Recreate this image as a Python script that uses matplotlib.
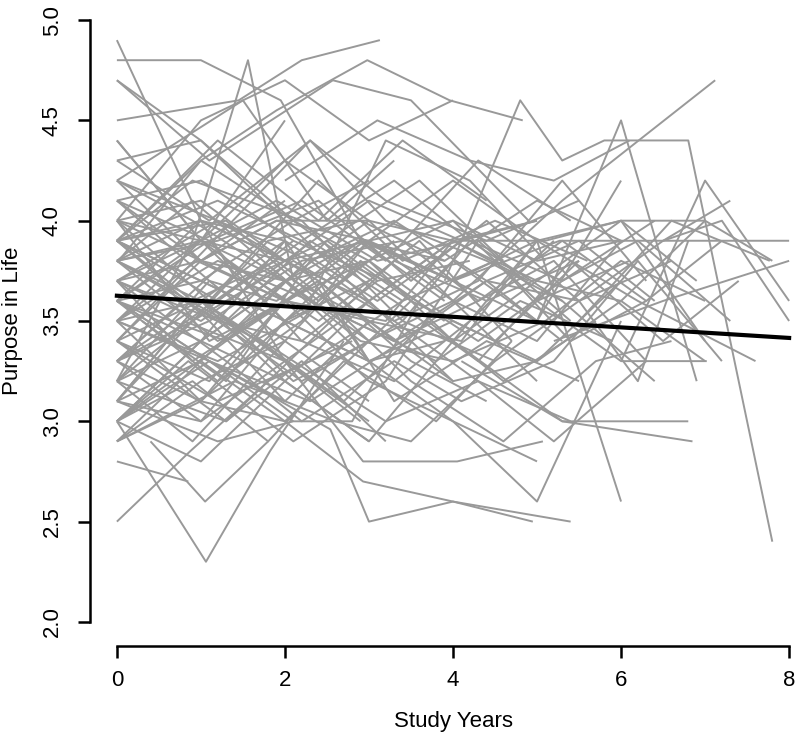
import matplotlib
matplotlib.use("Agg")
import matplotlib.pyplot as plt

plt.rcParams['font.family'] = ['Liberation Sans Narrow', 'Liberation Sans', 'DejaVu Sans']

# one list of study years and one of scores per participant
years = [
    [0, 1.0, 2.0, 2.9],
    [0, 1.0, 1.95, 2.9, 3.9],
    [0, 1.45, 2.2, 3.13],
    [0, 0.9, 1.56, 2.1, 3.0],
    [0.02, 1.0, 1.9, 2.98, 3.96, 4.83],
    [0, 1.1, 2.57, 3.5, 4.9],
    [3.9, 4.8, 5.3, 5.8, 6.8, 7.0, 7.8],
    [4.0, 5.3, 7.12],
    [5.0, 6.0, 6.9],
    [0, 0.87, 1.8, 2.8],
    [0, 1.06, 1.82, 2.7],
    [0.4, 1.05, 1.8],
    [0, 0.85],
    [0, 1.0, 2.0, 2.93, 4.0, 4.95],
    [0, 1.1, 2.54, 3.0, 4.0, 5.4],
    [0, 1.0, 2.0, 2.93, 4.05, 5.07],
    [3.0, 4.0, 5.0, 6.0],
    [3.0, 4.1, 5.0, 6.0],
    [4.0, 5.27, 6.5, 8.0],
    [6.0, 7.0, 7.5, 8.0],
    [5.2, 6.5, 8.0],
    [4.0, 5.3, 6.85],
    [4.1, 5.3, 6.8],
    [5.0, 6.0, 7.02],
    [5.0, 6.2, 7.6],
    [6.5, 7.2, 8.0],
    [5.5, 6.6, 7.77],
    [0, 1.0, 2.0, 3.0],
    [0, 1.0, 2.0],
    [0, 1.5, 2.5, 3.3],
    [0, 1.0, 2.0, 3.0, 4.0],
    [0, 1.0, 2.1, 3.0],
    [0, 0.95, 2.0, 2.95, 4.0],
    [0, 1.1, 2.0],
    [0, 1.0, 1.9, 3.1, 4.1, 5.0],
    [0, 1.05, 2.1, 3.0],
    [0, 0.9, 2.0, 2.9, 3.9],
    [0, 1.0, 2.0],
    [0, 1.2, 2.2, 3.1, 4.2],
    [0, 1.0, 2.0, 3.0, 4.0, 5.0, 6.0],
    [0, 0.8, 2.0, 3.0],
    [0, 1.0, 2.1],
    [0, 1.1, 2.0, 3.2, 4.0],
    [0, 0.9, 1.9, 2.8, 3.8, 4.8, 5.9],
    [0, 1.0, 2.0, 3.0],
    [0, 1.0, 2.0, 3.0, 4.1],
    [0, 1.1, 2.1],
    [0, 1.0, 1.9, 3.0, 4.0, 5.0],
    [0, 0.9, 2.0],
    [0, 1.0, 2.0, 2.9, 4.0, 5.1, 6.0, 7.0],
    [0, 1.0, 2.1, 3.1],
    [0, 1.1, 2.0, 3.0, 4.0],
    [0, 1.0, 2.0],
    [0, 1.0, 2.0, 3.0, 4.0, 4.9],
    [0, 1.0, 2.0, 3.0],
    [0, 0.9, 1.8, 2.9, 3.9, 5.0, 6.0],
    [0, 1.0, 2.0, 3.0],
    [0, 1.1, 2.0, 2.9, 3.9],
    [0, 1.0, 2.0, 3.0, 4.0, 5.0, 6.1],
    [0, 1.0, 2.0],
    [0, 1.2, 2.2, 3.0, 4.0],
    [0, 1.0, 2.0, 3.0, 4.0, 5.0],
    [0, 1.0, 2.1, 3.0],
    [0, 0.9, 2.0, 3.0],
    [0, 1.0, 2.0, 3.1, 4.1, 5.1, 6.0, 6.9],
    [0, 1.0, 2.0],
    [0, 1.0, 2.0, 3.0, 3.9],
    [0, 1.1, 1.9, 2.9, 4.0, 5.0],
    [0, 1.0, 2.0, 3.0],
    [0, 1.0, 2.0, 3.0, 4.0, 5.0, 6.0],
    [0, 1.0, 2.0],
    [0.5, 1.5, 2.5, 3.5, 4.5, 5.5],
    [0, 1.0, 2.0, 3.0],
    [0, 1.0, 2.0, 3.0, 4.0, 5.0, 6.0, 7.0],
    [0, 1.1, 2.0],
    [0, 1.0, 2.0, 3.0, 4.0],
    [0, 1.0, 1.9, 3.0, 4.0, 5.0, 6.0, 7.0, 7.8],
    [0, 1.0, 2.0, 3.0],
    [0, 1.0, 2.0, 3.0, 4.0, 5.0, 6.0, 7.0],
    [0, 1.0, 2.0],
    [0, 1.0, 2.0, 3.0, 4.0, 5.0],
    [0, 1.0, 2.0, 3.0, 4.0, 5.0, 6.0],
    [0, 1.0, 2.0, 3.0, 4.0, 5.0, 6.0, 7.0],
    [0, 1.0, 2.0, 3.0, 4.0, 5.0],
    [0, 1.0, 2.0, 3.0, 4.0, 5.0, 6.0],
    [0, 1.0, 2.0, 3.0, 4.0, 5.0],
    [0, 1.15, 2.3, 3.2, 4.4, 5.3, 6.4],
    [0, 1.2, 2.4, 3.4, 4.4],
    [0, 0.85, 2.1, 3.2, 4.3, 5.4],
    [0, 1.3, 2.2, 3.3, 4.1, 5.2, 6.2, 7.2],
    [0, 0.9, 2.3, 3.2, 4.2, 5.1],
    [0, 1.2, 2.1, 2.8, 3.6],
    [0.3, 1.3, 2.3, 3.3, 4.3, 5.3, 6.3],
    [0, 1.1, 2.4, 3.4, 4.5, 5.6],
    [0, 0.8, 1.7, 2.7, 3.7, 4.6, 5.7],
    [0, 1.3, 2.5, 3.6, 4.6],
    [0, 1.2, 2.2, 3.3, 4.3, 5.4, 6.5, 7.4],
    [0, 0.9, 2.2, 3.4, 4.2, 5.3],
    [0, 1.2, 2.5, 3.5, 4.6, 5.7, 6.6],
    [0, 1.3, 2.3, 3.4],
    [0, 0.9, 1.8, 2.7, 3.8, 4.7],
    [0, 1.2, 2.3, 3.3, 4.4, 5.5, 6.4],
    [0, 1.1, 2.2, 3.3, 4.2, 5.2],
    [0, 1.3, 2.4, 3.6, 4.7],
    [0, 1.2, 2.1, 3.2, 4.3, 5.3, 6.2, 7.3],
    [0, 1.4, 2.6, 3.5, 4.5],
    [0, 1.1, 2.3, 3.2, 4.4, 5.5],
    [0, 1.2, 2.3, 3.4, 4.5, 5.4, 6.3],
    [2.0, 3.1, 4.2, 5.2, 6.1],
    [0, 1.2, 2.4, 3.3, 4.3, 5.2, 6.3],
    [0, 0.9, 2.1, 3.3, 4.3, 5.4],
    [0, 1.2, 2.4, 3.5, 4.4, 5.5, 6.5, 7.3],
    [0, 1.3, 2.2, 3.2],
    [0, 1.1, 2.3, 3.4, 4.4, 5.3],
    [0, 1.2, 2.2, 3.3, 4.2, 5.3, 6.4],
    [0, 1.3, 2.3, 3.3, 4.4, 5.5],
    [1.0, 2.1, 3.2, 4.3, 5.2, 6.3],
    [0, 1.2, 2.3, 3.3, 4.4, 5.5, 6.2, 6.8],
    [0, 1.1, 2.2, 3.2, 4.3, 5.4],
    [0, 1.3, 2.4, 3.5, 4.4],
    [0, 1.2, 2.2, 3.4, 4.5, 5.5, 6.6],
    [0, 1.3, 2.4, 3.3],
    [0, 1.1, 2.2, 3.4, 4.3, 5.3, 6.3, 7.2],
    [0, 1.2, 2.4, 3.3, 4.4, 5.5],
]
scores = [
    [4.9, 4.0, 3.3, 3.0],
    [4.8, 4.8, 4.6, 3.9, 3.8],
    [4.5, 4.6, 4.8, 4.9],
    [3.2, 3.9, 4.8, 3.7, 3.5],
    [3.8, 4.3, 4.55, 4.8, 4.6, 4.5],
    [4.7, 4.3, 4.7, 4.6, 4.0],
    [3.7, 4.6, 4.3, 4.4, 4.4, 4.0, 2.4],
    [3.6, 4.1, 4.7],
    [3.5, 4.5, 3.2],
    [2.5, 2.85, 3.2, 3.4],
    [3.0, 2.3, 2.85, 3.4],
    [2.9, 2.6, 2.9],
    [2.8, 2.7],
    [3.3, 3.1, 3.0, 2.7, 2.6, 2.5],
    [3.6, 3.3, 2.96, 2.5, 2.6, 2.5],
    [3.1, 3.0, 3.3, 2.8, 2.8, 2.9],
    [3.2, 3.0, 2.6, 3.5],
    [3.5, 3.4, 3.9, 2.6],
    [3.7, 3.9, 3.9, 3.9],
    [3.3, 4.2, 3.9, 3.6],
    [3.4, 3.6, 3.8],
    [3.4, 3.0, 2.9],
    [3.3, 3.0, 3.0],
    [3.6, 3.3, 3.3],
    [3.9, 3.6, 3.3],
    [3.9, 4.0, 3.5],
    [3.5, 4.0, 3.8],
    [4.7, 4.4, 4.0, 3.6],
    [4.4, 3.9, 4.5],
    [4.2, 4.6, 4.0, 4.3],
    [4.0, 4.5, 4.7, 4.4, 4.6],
    [3.9, 3.7, 4.0, 3.8],
    [3.5, 3.8, 3.6, 3.9, 3.7],
    [4.0, 3.4, 3.6],
    [3.7, 3.9, 4.1, 3.8, 3.9, 4.0],
    [3.3, 3.6, 3.2, 3.4],
    [4.2, 4.0, 3.7, 3.9, 3.6],
    [3.0, 3.4, 3.9],
    [3.8, 3.5, 3.4, 3.7, 3.8],
    [3.6, 3.7, 3.5, 3.9, 4.0, 3.8, 3.9],
    [3.1, 3.5, 3.3, 3.0],
    [4.1, 4.2, 3.9],
    [3.4, 3.2, 3.6, 3.5, 3.9],
    [3.9, 3.6, 3.8, 3.5, 3.3, 3.6, 3.4],
    [2.9, 3.2, 3.4, 3.1],
    [3.8, 4.0, 3.8, 4.1, 3.9],
    [3.5, 3.3, 3.0],
    [4.0, 3.8, 4.0, 3.9, 4.2, 3.9],
    [3.2, 2.9, 3.4],
    [3.6, 3.4, 3.7, 3.4, 3.3, 3.5, 3.8, 3.6],
    [3.9, 4.3, 4.0, 3.7],
    [3.0, 3.3, 3.1, 3.5, 3.2],
    [4.4, 3.9, 3.8],
    [3.7, 3.5, 3.8, 3.6, 3.9, 3.7],
    [3.5, 3.9, 3.5, 3.3],
    [3.3, 3.5, 3.9, 4.0, 3.8, 4.1, 3.9],
    [3.0, 2.8, 3.2, 2.9],
    [4.1, 3.7, 3.4, 3.8, 3.5],
    [3.8, 3.9, 3.6, 3.8, 4.0, 3.6, 3.8],
    [3.4, 3.8, 4.1],
    [3.6, 3.2, 3.5, 3.9, 3.6],
    [2.9, 3.3, 3.0, 3.4, 3.6, 3.2],
    [4.3, 4.4, 4.0, 4.2],
    [3.7, 3.3, 3.6, 3.2],
    [3.9, 4.0, 3.9, 3.6, 3.9, 3.9, 4.0, 3.7],
    [3.1, 3.6, 3.3],
    [3.5, 3.6, 3.9, 3.3, 3.4],
    [3.2, 3.7, 3.6, 3.9, 3.7, 3.5],
    [4.0, 3.9, 4.3, 4.0],
    [3.8, 3.6, 3.3, 3.6, 3.2, 3.3, 3.7],
    [3.6, 4.0, 3.8],
    [3.4, 3.7, 3.9, 3.6, 3.4, 3.8],
    [3.3, 3.0, 3.5, 3.7],
    [4.0, 4.1, 3.8, 3.9, 3.7, 3.9, 4.0, 3.4],
    [3.9, 3.5, 3.1],
    [3.2, 3.4, 3.7, 3.3, 3.5],
    [3.7, 3.8, 4.0, 4.0, 3.9, 3.7, 4.0, 4.0, 3.8],
    [4.2, 3.8, 3.6, 3.5],
    [3.0, 3.4, 3.2, 2.9, 3.4, 3.7, 3.6, 3.3],
    [3.5, 3.1, 3.6],
    [3.9, 3.7, 3.5, 3.8, 3.4, 3.9],
    [3.1, 3.3, 3.7, 3.4, 3.8, 3.5, 4.2],
    [3.6, 3.9, 3.7, 3.8, 3.5, 3.3, 3.6, 4.0],
    [3.4, 3.6, 3.2, 3.6, 3.9, 4.0],
    [4.1, 3.8, 3.7, 4.0, 3.6, 3.4, 3.9],
    [2.9, 3.1, 3.5, 3.3, 3.0, 2.8],
    [3.4, 3.9, 4.4, 4.0, 3.8, 3.6, 3.2],
    [3.9, 4.4, 4.0, 4.4, 4.1],
    [3.0, 3.3, 2.9, 3.2, 3.9, 3.5],
    [3.7, 3.3, 3.0, 3.3, 3.1, 3.3, 3.8, 3.3],
    [3.8, 4.1, 3.6, 4.4, 4.2, 3.8],
    [3.1, 2.9, 3.0, 3.0, 3.6],
    [3.5, 3.2, 3.8, 3.5, 3.7, 4.2, 3.7],
    [4.0, 3.6, 4.2, 3.8, 4.0, 3.8],
    [3.3, 3.6, 3.4, 3.1, 3.5, 3.2, 3.5],
    [3.6, 3.4, 3.9, 4.2, 3.8],
    [3.2, 3.6, 3.9, 3.6, 3.3, 3.8, 3.4, 3.7],
    [3.9, 4.2, 4.0, 3.5, 3.9, 3.6],
    [3.5, 3.3, 3.6, 3.2, 2.9, 3.3, 3.4],
    [3.8, 3.5, 3.9, 3.6],
    [3.0, 3.2, 2.9, 3.3, 3.0, 3.4],
    [4.2, 4.0, 3.8, 4.0, 3.7, 3.9, 3.6],
    [3.6, 3.9, 3.4, 3.2, 3.5, 3.9],
    [3.3, 3.8, 3.5, 3.9, 3.4],
    [3.9, 3.6, 3.9, 3.7, 3.4, 3.7, 3.9, 3.5],
    [2.9, 3.2, 3.0, 2.9, 3.3],
    [4.3, 4.0, 4.4, 4.1, 3.9, 4.1],
    [3.4, 3.1, 3.3, 3.6, 3.8, 3.4, 3.6],
    [4.2, 4.5, 4.3, 4.2, 4.4],
    [3.7, 4.0, 3.7, 3.4, 3.6, 3.8, 3.3],
    [3.1, 3.5, 3.8, 3.5, 3.2, 3.0],
    [3.8, 3.9, 4.1, 3.7, 4.0, 3.6, 3.9, 4.1],
    [3.4, 3.0, 3.3, 2.9],
    [3.6, 3.3, 3.1, 3.4, 3.7, 3.4],
    [3.9, 4.1, 3.9, 4.2, 3.9, 3.7, 4.0],
    [3.2, 3.0, 3.4, 3.8, 3.6, 3.8],
    [3.6, 3.3, 3.0, 3.2, 2.9, 3.3],
    [3.5, 3.8, 3.6, 3.4, 3.7, 3.6, 3.2, 3.9],
    [4.1, 3.9, 4.1, 3.8, 4.3, 4.0],
    [3.0, 3.4, 3.7, 3.3, 3.1],
    [3.7, 3.5, 3.2, 3.5, 3.3, 3.6, 3.8],
    [3.9, 4.0, 3.6, 3.9],
    [3.3, 3.5, 3.8, 3.9, 3.6, 3.9, 3.6, 3.9],
    [3.8, 3.4, 3.7, 3.1, 3.4, 3.2],
]

# fixed-effect trend
intercept = 3.626
slope = -0.0263
trend_years = [0, 8]

fig = plt.figure(figsize=(8, 7.42), dpi=100)
ax = fig.add_axes([90 / 800, 96 / 742, 726 / 800, 650 / 742])

for t, s in zip(years, scores):
    ax.plot(t, s, color='#999999', lw=1.4, solid_capstyle='butt')

ax.plot(trend_years, [intercept + slope * t for t in trend_years],
        color='black', lw=3)

ax.set_xlim(-0.32, 8.32)
ax.set_ylim(1.88, 5.12)
ax.set_xticks([0, 2, 4, 6, 8])
ax.set_yticks([2.0, 2.5, 3.0, 3.5, 4.0, 4.5, 5.0])
ax.set_yticklabels(['2.0', '2.5', '3.0', '3.5', '4.0', '4.5', '5.0'],
                   rotation=90, va='center')

for side in ['top', 'right']:
    ax.spines[side].set_visible(False)
ax.spines['left'].set_bounds(2, 5)
ax.spines['bottom'].set_bounds(0, 8)
for side in ['left', 'bottom']:
    ax.spines[side].set_linewidth(1.8)

ax.tick_params(direction='out', length=8.5, width=1.8, labelsize=16)
ax.tick_params(axis='x', pad=9)
ax.tick_params(axis='y', pad=11)
ax.set_xlabel('Study Years', fontsize=16)
ax.set_ylabel('Purpose in Life', fontsize=16)
ax.xaxis.set_label_coords(0.5, -0.1)
ax.yaxis.set_label_coords(-0.092, 0.5)

fig.savefig('out.png', dpi=100)
